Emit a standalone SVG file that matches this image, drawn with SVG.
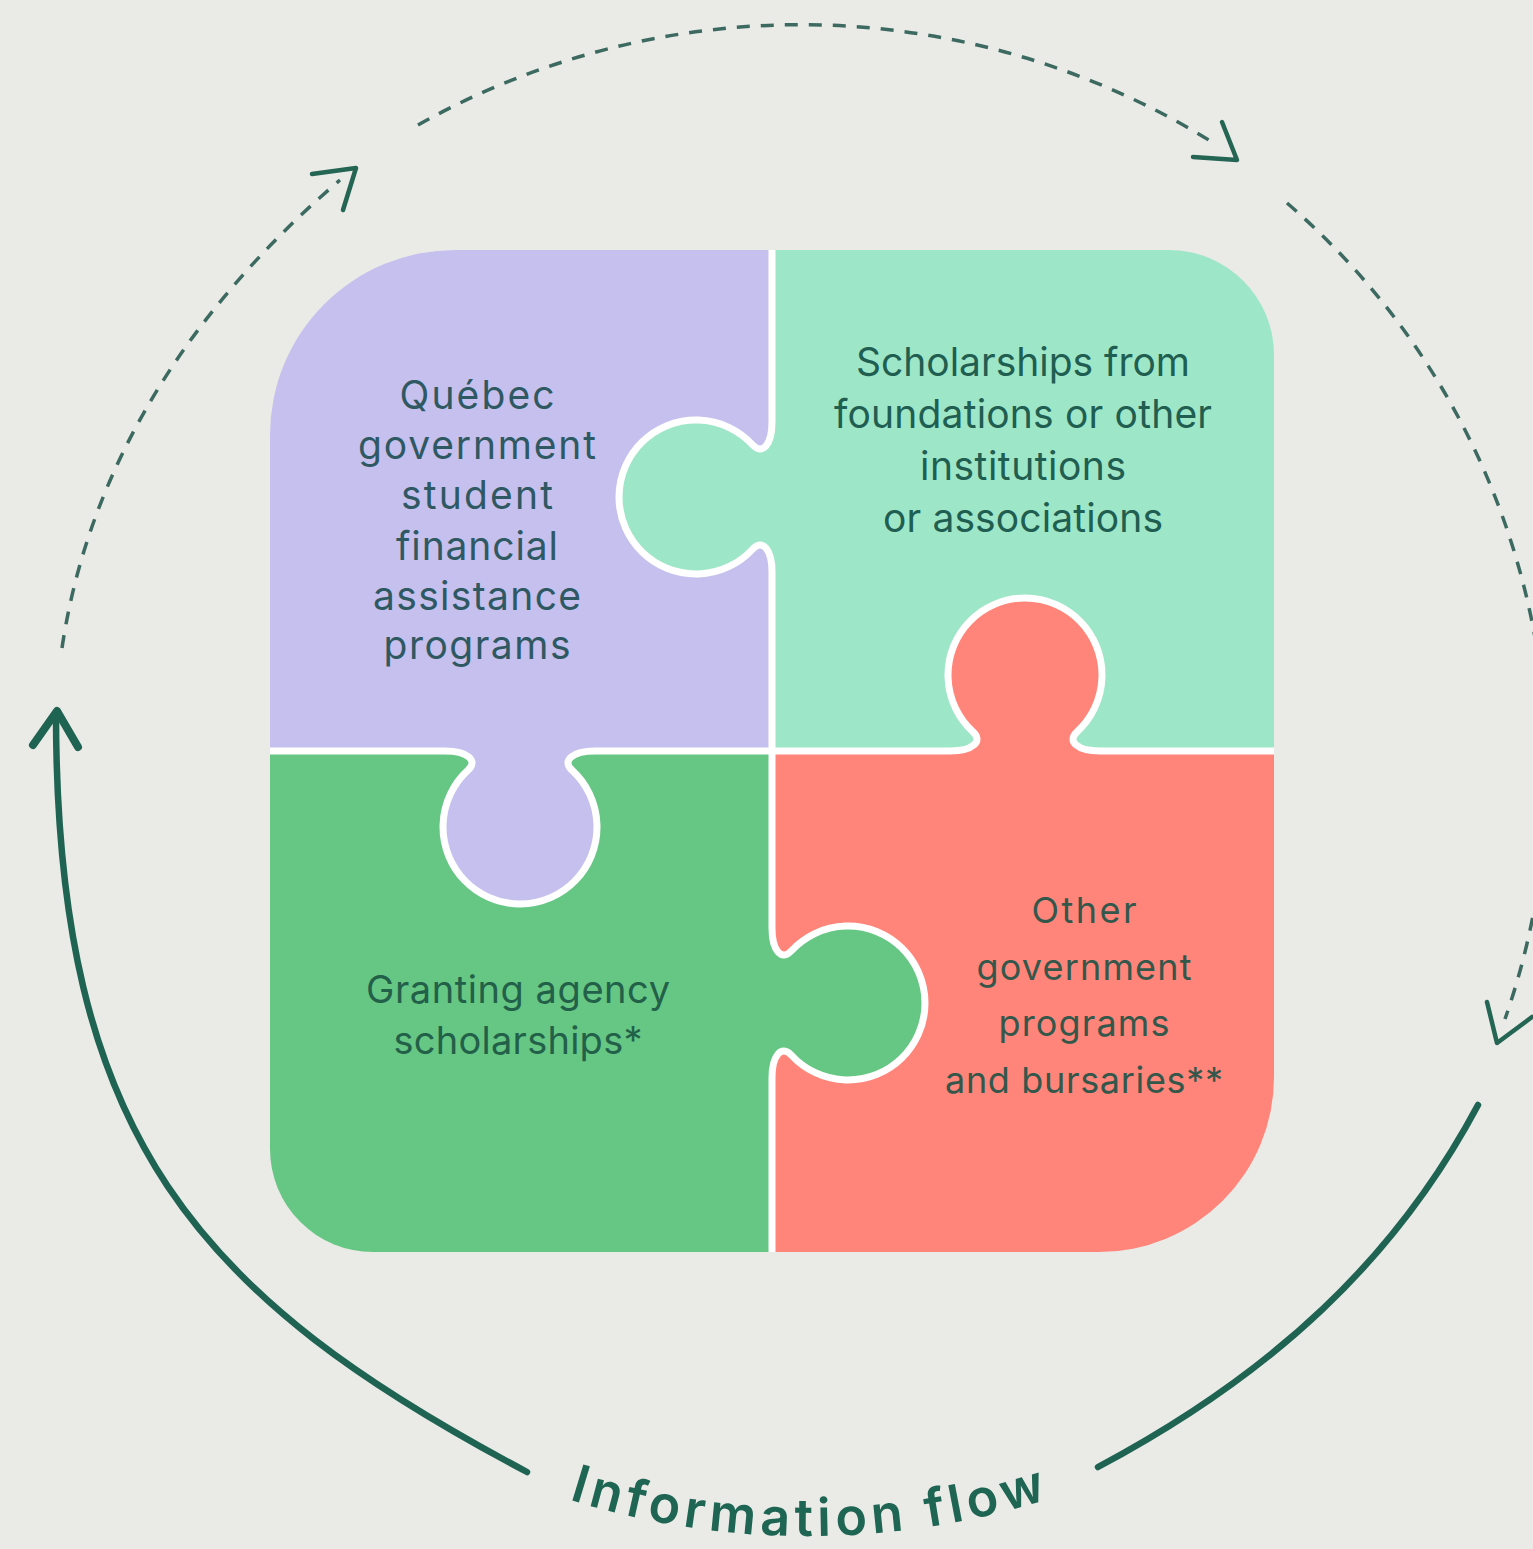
<svg xmlns="http://www.w3.org/2000/svg" width="1533" height="1549" viewBox="0 0 1533 1549">
<defs>
<clipPath id="outer"><path d="M 455,250 L 1169,250 A 105 105 0 0 1 1274,355 L 1274,1077 A 175 175 0 0 1 1099,1252 L 373,1252 A 103 103 0 0 1 270,1149 L 270,435 A 185 185 0 0 1 455,250 Z"/></clipPath>
<path id="flowPath" d="M 88.6,1086 A 800 800 0 0 0 1527.4,1086"/>
<style>
.seam{fill:none;stroke:#ffffff;stroke-width:7;stroke-linejoin:round;stroke-linecap:butt}
.lbl{font-family:Inter,"Liberation Sans",sans-serif;text-anchor:middle;font-weight:400}
.solid{fill:none;stroke:#1f6353;stroke-width:6.5;stroke-linecap:round}
.dash{fill:none;stroke:#3c6a60;stroke-width:3.5;stroke-dasharray:13 11}
.head{fill:none;stroke:#246553;stroke-width:4.5;stroke-linecap:round;stroke-linejoin:round}
.headsolid{fill:none;stroke:#1f6353;stroke-width:8;stroke-linecap:round;stroke-linejoin:round}
</style>
</defs>
<rect x="0" y="0" width="1533" height="1549" fill="#eaeae7"/>
<g id="puzzle" clip-path="url(#outer)">
<g id="node-quebec">
<path fill="#c6c0ee" d="M 200,180 L 772,180 L 772,422 C 772,445 762.25,455.3 752.8,445 A 77 77 0 1 0 752.8,549 C 762.25,538.7 772,549 772,572 L 772,751 L 595,751 C 572,751 561.7,760.75 572,770.2 A 77 77 0 1 1 468,770.2 C 478.3,760.75 468,751 445,751 L 200,751 Z"/>
<g class="lbl" font-size="39" fill="#2f5962">
<text x="477" y="409" textLength="155" lengthAdjust="spacing">Québec</text>
<text x="477" y="459" textLength="238" lengthAdjust="spacing">government</text>
<text x="477" y="509" textLength="152" lengthAdjust="spacing">student</text>
<text x="477" y="560" textLength="162" lengthAdjust="spacing">financial</text>
<text x="477" y="610" textLength="208" lengthAdjust="spacing">assistance</text>
<text x="477" y="659" textLength="187" lengthAdjust="spacing">programs</text>
</g>
</g>
<g id="node-foundations">
<path fill="#9ee6c8" d="M 772,180 L 1340,180 L 1340,751 L 1100,751 C 1077,751 1066.7,741.25 1077,731.8 A 77 77 0 1 0 973,731.8 C 983.3,741.25 973,751 950,751 L 772,751 L 772,572 C 772,549 762.25,538.7 752.8,549 A 77 77 0 1 1 752.8,445 C 762.25,455.3 772,445 772,422 Z"/>
<g class="lbl" font-size="39" fill="#1f5e50">
<text x="1023" y="376" textLength="334" lengthAdjust="spacing">Scholarships from</text>
<text x="1023" y="428" textLength="378" lengthAdjust="spacing">foundations or other</text>
<text x="1023" y="480" textLength="206" lengthAdjust="spacing">institutions</text>
<text x="1023" y="532" textLength="280" lengthAdjust="spacing">or associations</text>
</g>
</g>
<g id="node-granting">
<path fill="#66c784" d="M 200,751 L 445,751 C 468,751 478.3,760.75 468,770.2 A 77 77 0 1 0 572,770.2 C 561.7,760.75 572,751 595,751 L 772,751 L 772,928 C 772,951 781.75,961.3 791.2,951 A 77 77 0 1 1 791.2,1055 C 781.75,1044.7 772,1055 772,1078 L 772,1320 L 200,1320 Z"/>
<g class="lbl" font-size="38" fill="#236049">
<text x="518" y="1003" textLength="304" lengthAdjust="spacing">Granting agency</text>
<text x="518" y="1054" textLength="249" lengthAdjust="spacing">scholarships*</text>
</g>
</g>
<g id="node-other">
<path fill="#ff857a" d="M 772,751 L 950,751 C 973,751 983.3,741.25 973,731.8 A 77 77 0 1 1 1077,731.8 C 1066.7,741.25 1077,751 1100,751 L 1340,751 L 1340,1320 L 772,1320 L 772,1078 C 772,1055 781.75,1044.7 791.2,1055 A 77 77 0 1 0 791.2,951 C 781.75,961.3 772,951 772,928 Z"/>
<g class="lbl" font-size="36" fill="#34574b">
<text x="1084" y="923" textLength="105" lengthAdjust="spacing">Other</text>
<text x="1084" y="980" textLength="215" lengthAdjust="spacing">government</text>
<text x="1084" y="1036" textLength="171" lengthAdjust="spacing">programs</text>
<text x="1084" y="1093" textLength="278" lengthAdjust="spacing">and bursaries**</text>
</g>
</g>
<g id="seams">
<path class="seam" d="M 772,240 L 772,422 C 772,445 762.25,455.3 752.8,445 A 77 77 0 1 0 752.8,549 C 762.25,538.7 772,549 772,572 L 772,928 C 772,951 781.75,961.3 791.2,951 A 77 77 0 1 1 791.2,1055 C 781.75,1044.7 772,1055 772,1078 L 772,1262"/>
<path class="seam" d="M 260,751 L 445,751 C 468,751 478.3,760.75 468,770.2 A 77 77 0 1 0 572,770.2 C 561.7,760.75 572,751 595,751 L 950,751 C 973,751 983.3,741.25 973,731.8 A 77 77 0 1 1 1077,731.8 C 1066.7,741.25 1077,751 1100,751 L 1284,751"/>
</g>
</g>
<g id="connectors">
<path class="solid" d="M 56,714 C 56,1138 197,1297 527,1472"/>
<polyline class="headsolid" points="33,745 57,711 78,747"/>
<path class="solid" d="M 1478,1105 C 1396,1259 1273,1374 1098,1467"/>
<path class="dash" d="M 62,648 C 90,460 196,303 340,180"/>
<polyline class="head" points="312,174 356,168 343,210"/>
<path class="dash" d="M 418,125 A 780 780 0 0 1 1212,142"/>
<polyline class="head" points="1222,122 1237,160 1193,157"/>
<path class="dash" d="M 1287,203 A 751 751 0 0 1 1505,1019"/>
<polyline class="head" points="1487,1002 1497,1043 1532,1017"/>
</g>
<g id="flow-label">
<text font-family="Inter,'Liberation Sans',sans-serif" font-size="52" font-weight="600" fill="#1f6554" text-anchor="middle"><textPath href="#flowPath" startOffset="50%" textLength="486" lengthAdjust="spacing">Information flow</textPath></text>
</g>
</svg>
